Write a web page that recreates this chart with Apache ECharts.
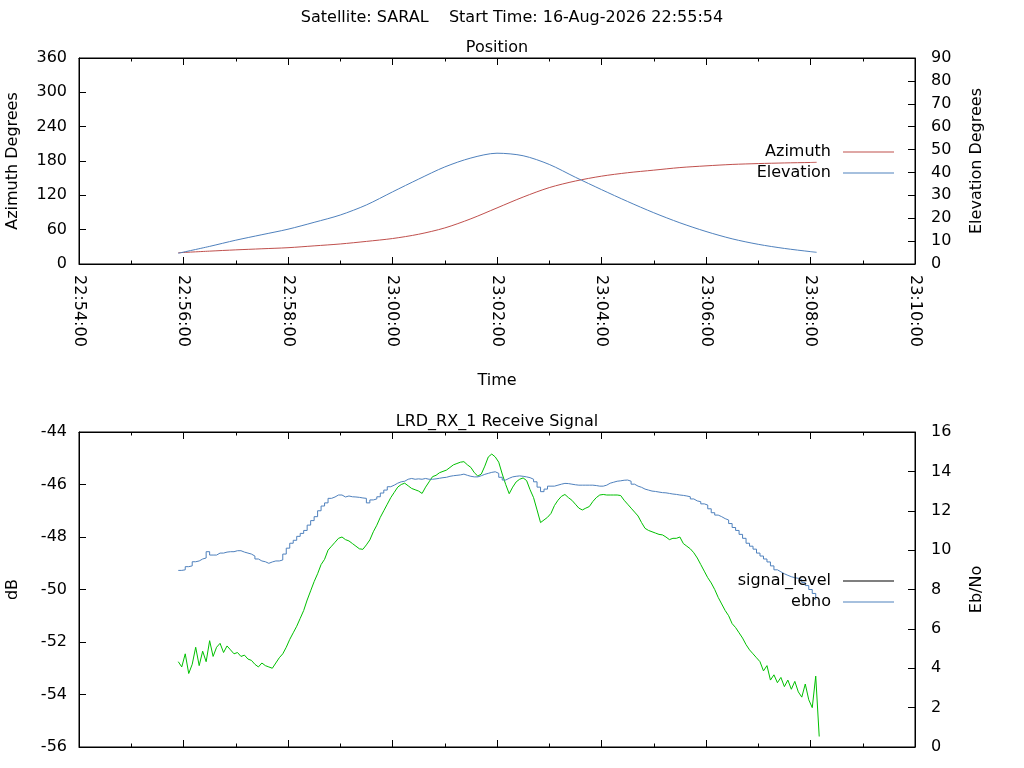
<!DOCTYPE html>
<html style="height: 100%">
<head>
<meta charset="utf-8">
</head>
<body style="height: 100%; margin: 0; background: #fff">
	<div id="container" style="width: 1024px; height: 768px"></div>
	<script type="text/javascript" src="https://cdn.jsdelivr.net/npm/echarts@6/dist/echarts.min.js"></script>
	<script type="text/javascript">
		// position pass (top plot), read every 30 s
		var posTimes = ['22:55:54','22:56:30','22:57:00','22:57:30','22:58:00','22:58:30','22:59:00','22:59:30',
			'23:00:00','23:00:30','23:01:00','23:01:30','23:02:00','23:02:30','23:03:00','23:03:30',
			'23:04:00','23:04:30','23:05:00','23:05:30','23:06:00','23:06:30','23:07:00','23:07:30',
			'23:08:00','23:08:07'];
		var azimuth = [19.7,22.5,24.7,26.6,28.5,31.7,35,39.5,44.5,52,63,79,98,117,133.5,145,
			153.5,159.5,164,168.5,171.5,174,175.5,176.6,177.4,177.7];
		var elevation = [4.7,7.7,10.4,12.8,15.2,18.2,21.4,25.8,31.5,37.1,42.4,46.3,48.4,47.3,43.5,37.9,
			32.5,27.3,22.4,18,14.2,11,8.6,6.8,5.4,5.1];

		// receive signal (bottom plot), one sample every sigStep seconds from sigStart
		var sigStart = '22:55:54';
		var sigStep = 4;
		var signalLevel = [
			-52.75,-52.95,-52.45,-53.2,-52.85,-52.2,-52.9,-52.35,-52.75,-51.95,
			-52.55,-52.2,-52.05,-52.4,-52.15,-52.3,-52.45,-52.4,-52.55,-52.5,
			-52.65,-52.7,-52.85,-52.95,-52.8,-52.9,-52.95,-53.0,-52.8,-52.6,
			-52.45,-52.2,-51.9,-51.65,-51.4,-51.1,-50.8,-50.4,-50.05,-49.7,
			-49.4,-49.05,-48.85,-48.5,-48.35,-48.2,-48.05,-48.0,-48.1,-48.15,
			-48.25,-48.35,-48.45,-48.47,-48.3,-48.11,-47.8,-47.55,-47.25,-47.0,
			-46.75,-46.5,-46.3,-46.1,-46.0,-45.95,-46.05,-46.15,-46.2,-46.25,
			-46.34,-46.1,-45.9,-45.7,-45.65,-45.55,-45.5,-45.45,-45.35,-45.25,
			-45.2,-45.15,-45.13,-45.25,-45.35,-45.55,-45.68,-45.6,-45.3,-44.95,
			-44.84,-44.95,-45.15,-45.6,-46.0,-46.35,-46.1,-45.9,-45.8,-45.75,
			-45.85,-46.2,-46.5,-46.97,-47.45,-47.35,-47.25,-47.1,-46.8,-46.6,
			-46.45,-46.38,-46.5,-46.6,-46.75,-46.9,-46.97,-46.9,-46.84,-46.65,
			-46.5,-46.4,-46.38,-46.4,-46.4,-46.4,-46.4,-46.42,-46.6,-46.75,
			-46.9,-47.05,-47.2,-47.45,-47.67,-47.75,-47.8,-47.85,-47.9,-47.92,
			-48.0,-48.1,-48.05,-48.05,-48.0,-48.25,-48.35,-48.45,-48.6,-48.8,
			-49.05,-49.3,-49.55,-49.75,-50.0,-50.3,-50.55,-50.8,-51.0,-51.3,
			-51.45,-51.65,-51.85,-52.1,-52.3,-52.45,-52.6,-52.75,-53.1,-52.9,
			-53.45,-53.25,-53.55,-53.35,-53.7,-53.45,-53.8,-53.5,-53.9,-54.1,
			-53.6,-54.2,-54.5,-53.3,-55.6];
		var ebno = [
			8.97,9.0,9.16,9.2,9.41,9.45,9.55,9.6,9.92,9.75,
			9.75,9.85,9.85,9.9,9.92,9.92,9.97,9.97,9.9,9.85,
			9.8,9.7,9.55,9.45,9.41,9.33,9.4,9.45,9.45,9.5,
			9.8,10.1,10.35,10.5,10.7,10.85,11.0,11.27,11.5,11.7,
			12.0,12.24,12.4,12.63,12.7,12.8,12.8,12.7,12.75,12.71,
			12.7,12.68,12.65,12.63,12.4,12.55,12.6,12.71,12.9,13.05,
			13.22,13.3,13.4,13.47,13.5,13.6,13.64,13.6,13.62,13.6,
			13.64,13.6,13.6,13.62,13.65,13.68,13.7,13.75,13.78,13.8,
			13.82,13.86,13.8,13.75,13.72,13.72,13.78,13.85,13.9,13.95,
			13.98,13.9,13.7,13.56,13.65,13.72,13.75,13.77,13.75,13.72,
			13.68,13.6,13.47,13.2,12.97,13.1,13.25,13.25,13.3,13.35,
			13.39,13.38,13.35,13.32,13.3,13.3,13.3,13.3,13.3,13.28,
			13.25,13.25,13.3,13.4,13.45,13.5,13.52,13.55,13.56,13.5,
			13.35,13.25,13.19,13.1,13.05,13.0,12.98,12.95,12.92,12.91,
			12.88,12.85,12.83,12.8,12.78,12.75,12.71,12.6,12.5,12.46,
			12.35,12.29,12.1,11.9,11.78,11.7,11.6,11.53,11.35,11.15,
			11.0,10.8,10.6,10.35,10.2,10.05,9.85,9.7,9.55,9.4,
			9.2,9.0,8.9,8.8,8.72,8.65,8.6,8.57,8.5,8.35,
			8.2,8.0,7.8,7.47];

		var timeMin = '22:54:00', timeMax = '23:10:00';
		var mainTitle = 'Satellite: SARAL    Start Time: 16-Aug-2026 22:55:54';

		function toSec(s) {
			var p = s.split(':');
			return (+p[0]) * 3600 + (+p[1]) * 60 + (+p[2]);
		}
		function pad(n) { return (n < 10 ? '0' : '') + n; }
		function fmtTime(v) {
			var h = Math.floor(v / 3600), m = Math.floor((v % 3600) / 60), s = Math.round(v % 60);
			return pad(h) + ':' + pad(m) + ':' + pad(s);
		}
		function pairs(times, vals) {
			var out = [];
			for (var i = 0; i < vals.length; i++) out.push([toSec(times[i]), vals[i]]);
			return out;
		}
		function sampled(start, step, vals) {
			var out = [], t0 = toSec(start);
			for (var i = 0; i < vals.length; i++) out.push([t0 + i * step, vals[i]]);
			return out;
		}

		var font = 'DejaVu Sans';
		var black = '#000';
		var txt = { color: black, fontFamily: font, fontSize: 16 };

		function xAxis(grid, pos, withLabels, name) {
			return {
				type: 'value', gridIndex: grid, position: pos,
				min: toSec(timeMin), max: toSec(timeMax), interval: 120,
				axisLine: { show: true, onZero: false, lineStyle: { color: black, width: 1 } },
				axisTick: { show: true, inside: true, length: 7, lineStyle: { color: black } },
				minorTick: { show: true, splitNumber: 2, length: 3.5, lineStyle: { color: black } },
				splitLine: { show: false },
				axisLabel: withLabels ? {
					show: true, rotate: -90, margin: 11, formatter: fmtTime,
					showMinLabel: true, showMaxLabel: true,
					color: black, fontFamily: font, fontSize: 16
				} : { show: false },
				name: name || '', nameLocation: 'middle', nameGap: 109, nameTextStyle: txt
			};
		}
		function yAxis(grid, pos, min, max, interval, name, gap) {
			return {
				type: 'value', gridIndex: grid, position: pos,
				min: min, max: max, interval: interval,
				axisLine: { show: true, onZero: false, lineStyle: { color: black, width: 1 } },
				axisTick: { show: true, inside: true, length: 7, lineStyle: { color: black } },
				splitLine: { show: false },
				axisLabel: { margin: pos === 'left' ? 12 : 16, color: black, fontFamily: font, fontSize: 16 },
				name: name, nameLocation: 'middle', nameRotate: 90, nameGap: gap, nameTextStyle: txt
			};
		}
		function legendAt(top, data) {
			return {
				orient: 'vertical', align: 'right', right: 130, top: top, padding: 0,
				icon: 'rect', itemWidth: 51, itemHeight: 1, itemGap: 5,
				textStyle: { color: black, fontFamily: font, fontSize: 16, lineHeight: 14, padding: [0, 7, 0, 0] },
				data: data
			};
		}

		var dom = document.getElementById('container');
		var myChart = echarts.init(dom);
		var option = {
			animation: false,
			backgroundColor: '#fff',
			title: [
				{ text: mainTitle, left: 512, textAlign: 'center', top: 10, padding: 0,
					textStyle: { color: black, fontFamily: font, fontSize: 16, fontWeight: 'normal' } },
				{ text: 'Position', left: 497, textAlign: 'center', top: 40, padding: 0,
					textStyle: { color: black, fontFamily: font, fontSize: 16, fontWeight: 'normal' } },
				{ text: 'LRD_RX_1 Receive Signal', left: 497, textAlign: 'center', top: 414, padding: 0,
					textStyle: { color: black, fontFamily: font, fontSize: 16, fontWeight: 'normal' } }
			],
			legend: [
				legendAt(144, ['Azimuth', 'Elevation']),
				legendAt(573, [
					{ name: 'signal_level', itemStyle: { color: black } },
					'ebno'
				])
			],
			grid: [
				{ left: 79, top: 58, width: 836, height: 206, show: true, borderColor: black, borderWidth: 1,
					outerBoundsMode: 'none' },
				{ left: 79, top: 432, width: 836, height: 315, show: true, borderColor: black, borderWidth: 1,
					outerBoundsMode: 'none' }
			],
			xAxis: [
				xAxis(0, 'bottom', true, 'Time'),
				xAxis(0, 'top', false),
				xAxis(1, 'bottom', false),
				xAxis(1, 'top', false)
			],
			yAxis: [
				yAxis(0, 'left', 0, 360, 60, 'Azimuth Degrees', 58),
				yAxis(0, 'right', 0, 90, 10, 'Elevation Degrees', 54),
				yAxis(1, 'left', -56, -44, 2, 'dB', 58),
				yAxis(1, 'right', 0, 16, 2, 'Eb/No', 54)
			],
			series: [
				{
					name: 'Azimuth', type: 'line', xAxisIndex: 0, yAxisIndex: 0,
					data: pairs(posTimes, azimuth), symbol: 'none', smooth: 0.3,
					itemStyle: { color: '#c0504d' }, lineStyle: { color: '#c0504d', width: 1 }
				},
				{
					name: 'Elevation', type: 'line', xAxisIndex: 0, yAxisIndex: 1,
					data: pairs(posTimes, elevation), symbol: 'none', smooth: 0.3,
					itemStyle: { color: '#4f81bd' }, lineStyle: { color: '#4f81bd', width: 1 }
				},
				{
					name: 'signal_level', type: 'line', xAxisIndex: 2, yAxisIndex: 2,
					data: sampled(sigStart, sigStep, signalLevel), symbol: 'none',
					itemStyle: { color: '#00c000' }, lineStyle: { color: '#00c000', width: 1 }
				},
				{
					name: 'ebno', type: 'line', xAxisIndex: 2, yAxisIndex: 3,
					data: sampled(sigStart, sigStep, ebno), symbol: 'none', step: 'end',
					itemStyle: { color: '#4f81bd' }, lineStyle: { color: '#4f81bd', width: 1 }
				}
			]
		};
		if (option && typeof option === 'object') {
			myChart.setOption(option, true);
		}
	</script>
</body>
</html>
